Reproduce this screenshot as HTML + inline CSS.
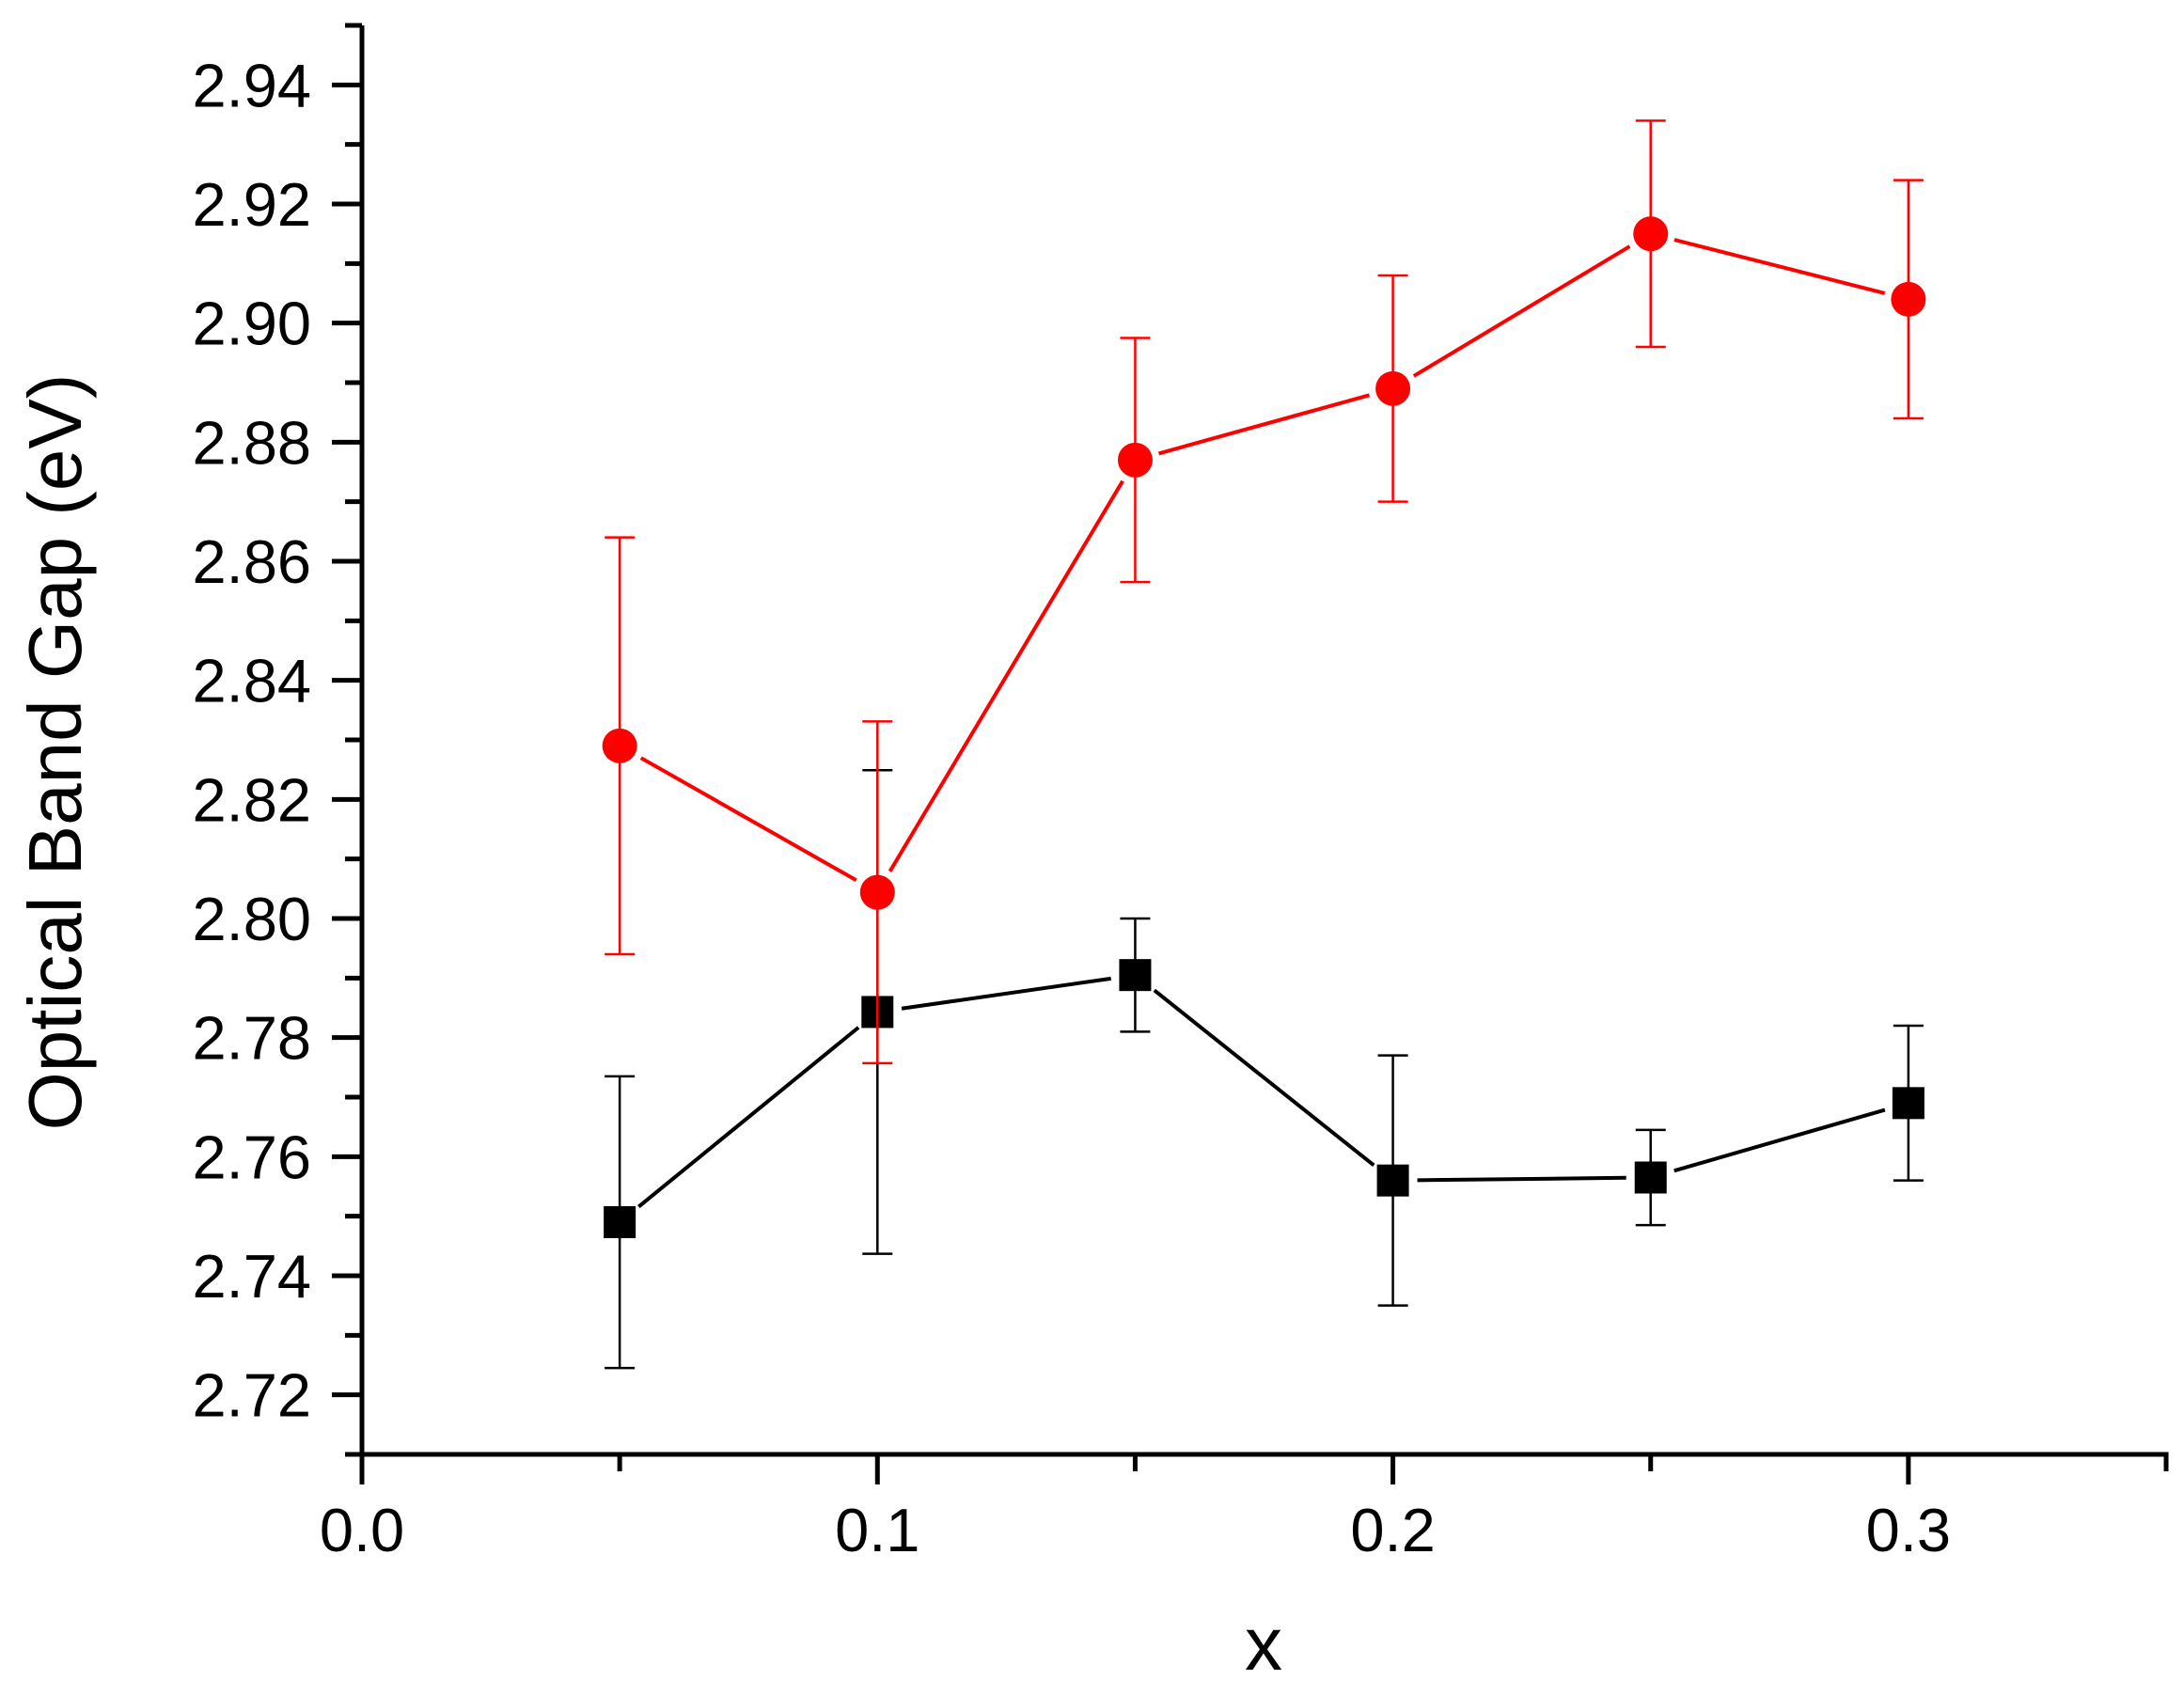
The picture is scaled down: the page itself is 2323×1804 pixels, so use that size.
<!DOCTYPE html>
<html><head><meta charset="utf-8"><style>
html,body{margin:0;padding:0;background:#fff;}
svg{display:block;font-family:"Liberation Sans",Arial,sans-serif;}
</style></head><body>
<svg id="chart" width="2323" height="1804" viewBox="0 0 2323 1804" xmlns="http://www.w3.org/2000/svg">
<g id="axes"></g>
<g id="marks"></g>
<text transform="translate(86,800) rotate(-90)" text-anchor="middle" font-size="80">Optical Band Gap (eV)</text>
<text x="1344" y="1776" text-anchor="middle" font-size="80">x</text>
</svg>
<script>
const xCats = [0.05, 0.10, 0.15, 0.20, 0.25, 0.30];
const redVals = [2.829, 2.8044, 2.877, 2.889, 2.915, 2.904];
const redErr = [0.035, 0.0287, 0.0205, 0.019, 0.019, 0.020];
const blackVals = [2.749, 2.7843, 2.7905, 2.756, 2.7565, 2.769];
const blackErr = [0.0245, 0.0406, 0.0095, 0.021, 0.008, 0.013];
const xTicks = ["0.0", "0.1", "0.2", "0.3"];
const yTicks = ["2.72","2.74","2.76","2.78","2.80","2.82","2.84","2.86","2.88","2.90","2.92","2.94"];

const X0=385, X1=2304, XMIN=0, XMAX=0.35;
const Y0=1547, Y1=27, YMIN=2.71, YMAX=2.95;
function xs(v){return X0+(v-XMIN)/(XMAX-XMIN)*(X1-X0);}
function ys(v){return Y0-(v-YMIN)/(YMAX-YMIN)*(Y0-Y1);}
const NS="http://www.w3.org/2000/svg";
function mk(tag,attrs,parent){const e=document.createElementNS(NS,tag);for(const k in attrs)e.setAttribute(k,attrs[k]);parent.appendChild(e);return e;}
const axes=document.getElementById('axes'), marks=document.getElementById('marks');

let e=mk('line',{x1:X0,y1:Y1,x2:X0,y2:Y0+2.5,stroke:'#000','stroke-width':5},axes);


e=mk('line',{x1:X0-2.5,y1:Y0,x2:X1+2.5,y2:Y0,stroke:'#000','stroke-width':5},axes);


for(let i=0;i<=24;i++){
  const v=YMIN+i*0.01, y=ys(v), major=(i%2===1);
  e=mk('line',{x1:X0-(major?32:18),y1:y,x2:X0,y2:y,stroke:'#000','stroke-width':5},axes);
  
  
}
yTicks.forEach(t=>{
  e=mk('text',{x:331,y:ys(parseFloat(t))+23,'text-anchor':'end','font-size':65},axes);
  e.textContent=t;
  
  
});
for(let i=0;i<=7;i++){
  const v=i*0.05, x=xs(v), major=(i%2===0);
  e=mk('line',{x1:x,y1:Y0,x2:x,y2:Y0+(major?32:18),stroke:'#000','stroke-width':5},axes);
  
  
}
xTicks.forEach(t=>{
  e=mk('text',{x:xs(parseFloat(t)),y:1650,'text-anchor':'middle','font-size':65},axes);
  e.textContent=t;
  
  
});

function drawLine(vals,color,gap,name){
  for(let i=0;i<vals.length-1;i++){
    const ax=xs(xCats[i]),ay=ys(vals[i]),bx=xs(xCats[i+1]),by=ys(vals[i+1]);
    const dx=bx-ax,dy=by-ay,L=Math.hypot(dx,dy),ux=dx/L,uy=dy/L;
    e=mk('line',{x1:ax+ux*gap,y1:ay+uy*gap,x2:bx-ux*gap,y2:by-uy*gap,stroke:color,'stroke-width':4},marks);
    
    
  }
}
function drawErr(vals,errs,color,name){
  vals.forEach((v,i)=>{
    const x=xs(xCats[i]),t=ys(v+errs[i]),b=ys(v-errs[i]);
    const g=mk('g',{stroke:color,'stroke-width':2.5},marks);
    
    
    mk('line',{x1:x,y1:t,x2:x,y2:b},g);
    mk('line',{x1:x-16,y1:t,x2:x+16,y2:t},g);
    mk('line',{x1:x-16,y1:b,x2:x+16,y2:b},g);
  });
}
drawLine(blackVals,'#000',26,'black-series-line');
drawLine(redVals,'#ff0000',26,'red-series-line');
blackVals.forEach((v,i)=>{
  e=mk('rect',{x:xs(xCats[i])-17,y:ys(v)-17,width:34,height:34,fill:'#000'},marks);
  
  
});
redVals.forEach((v,i)=>{
  e=mk('circle',{cx:xs(xCats[i]),cy:ys(v),r:18.5,fill:'#ff0000'},marks);
  
  
});
drawErr(blackVals,blackErr,'#000','black-error-bar');
drawErr(redVals,redErr,'#ff0000','red-error-bar');
</script>
</body></html>
